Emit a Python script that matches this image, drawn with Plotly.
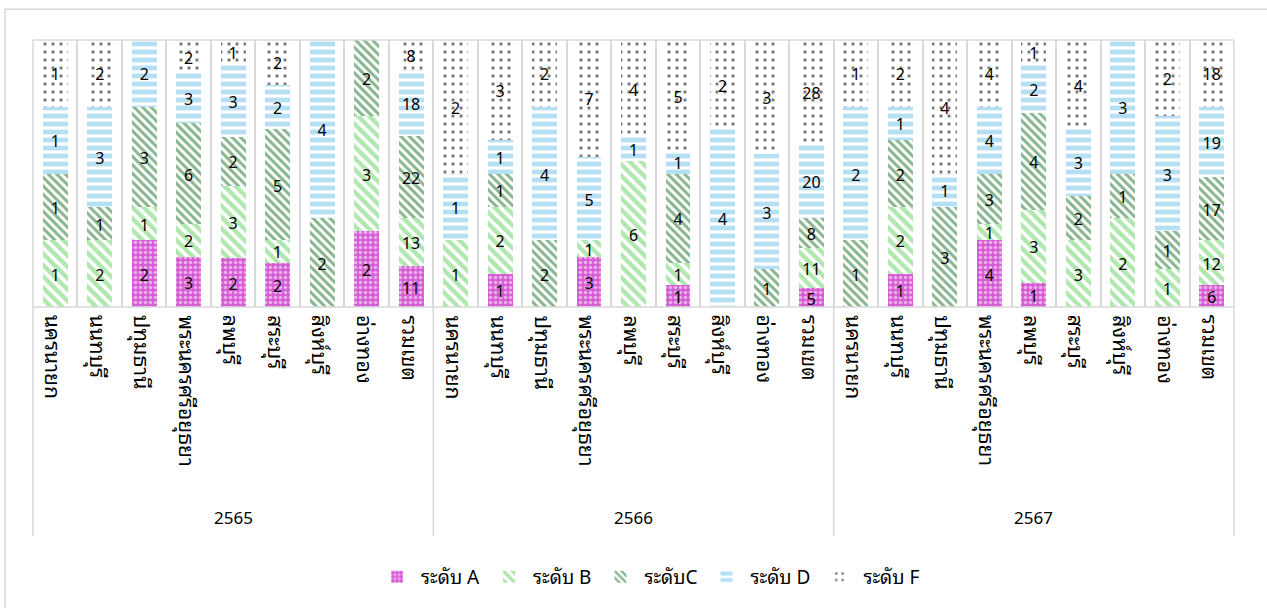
import plotly.graph_objects as go

years = ["2565", "2566", "2567"]
provinces = ["นครนายก", "นนทบุรี", "ปทุมธานี", "พระนครศรีอยุธยา", "ลพบุรี",
             "สระบุรี", "สิงห์บุรี", "อ่างทอง", "รวมเขต"]

# counts per bar: 2565 block, 2566 block, 2567 block (9 provinces each)
grade_A = [0, 0, 2, 3, 2, 2, 0, 2, 11,
           0, 1, 0, 3, 0, 1, 0, 0, 5,
           0, 1, 0, 4, 1, 0, 0, 0, 6]
grade_B = [1, 2, 1, 2, 3, 1, 0, 3, 13,
           1, 2, 0, 1, 6, 1, 0, 0, 11,
           0, 2, 0, 1, 3, 3, 2, 1, 12]
grade_C = [1, 1, 3, 6, 2, 5, 2, 2, 22,
           0, 1, 2, 0, 0, 4, 0, 1, 8,
           1, 2, 3, 3, 4, 2, 1, 1, 17]
grade_D = [1, 3, 2, 3, 3, 2, 4, 0, 18,
           1, 1, 4, 5, 1, 1, 4, 3, 20,
           2, 1, 1, 4, 2, 3, 3, 3, 19]
grade_F = [1, 2, 0, 2, 1, 2, 0, 0, 8,
           2, 3, 2, 7, 4, 5, 2, 3, 28,
           1, 2, 4, 4, 1, 4, 0, 2, 18]

series_names = ["ระดับ A", "ระดับ B", "ระดับC", "ระดับ D", "ระดับ F"]
series_values = [grade_A, grade_B, grade_C, grade_D, grade_F]
patterns = [
    dict(shape=".", bgcolor="#d65cd4", fgcolor="#ffffff", size=5, solidity=0.4),
    dict(shape="\\", bgcolor="#ffffff", fgcolor="#5fcf5f", size=8, solidity=0.55),
    dict(shape="\\", bgcolor="#ffffff", fgcolor="#0f6a1c", size=6, solidity=0.5),
    dict(shape="-", bgcolor="#ffffff", fgcolor="#6cc0e8", size=8, solidity=0.6),
    dict(shape=".", bgcolor="#ffffff", fgcolor="#000000", size=8, solidity=0.14),
]

labels_year = [y for y in years for _ in provinces]
labels_prov = [p for _ in years for p in provinces]
xpos = list(range(len(labels_prov)))

FONT = "Noto Sans Thai Looped, Noto Sans, Leelawadee UI, Tahoma, sans-serif"

fig = go.Figure()
for name, vals, pat in zip(series_names, series_values, patterns):
    yv = [v if v else None for v in vals]
    fig.add_trace(go.Bar(
        x=xpos, y=yv, name=name,
        text=[str(v) if v else "" for v in vals],
        textposition="inside", insidetextanchor="middle", textangle=0,
        textfont=dict(size=16, color="#000000", family=FONT),
        marker=dict(color=pat["bgcolor"], line=dict(width=0),
                    pattern=dict(shape=pat["shape"], fgcolor=pat["fgcolor"],
                                 bgcolor=pat["bgcolor"], size=pat["size"],
                                 solidity=pat["solidity"], fillmode="overlay")),
        width=0.56,
        hoverinfo="skip",
    ))

n = len(xpos)
fig.update_layout(
    barmode="stack", barnorm="percent",
    width=1267, height=608,
    margin=dict(l=33, r=33, t=40, b=299),
    paper_bgcolor="white", plot_bgcolor="white",
    font=dict(family=FONT, size=16, color="#000000"),
    uniformtext=dict(minsize=16, mode="show"),
    showlegend=True,
    legend=dict(orientation="h", x=0.513, xanchor="center", y=-1.011, yanchor="middle",
                font=dict(size=19), traceorder="normal", itemwidth=38,
                bgcolor="rgba(0,0,0,0)"),
    xaxis=dict(range=[-0.5, n - 0.5], showticklabels=False, ticks="",
               showgrid=True, gridcolor="#d9d9d9", gridwidth=1.5,
               tickmode="linear", tick0=-0.5, dtick=1,
               zeroline=False, showline=False),
    yaxis=dict(range=[0, 100], showticklabels=False, ticks="", showgrid=False,
               zeroline=False, showline=False),
)

line_style = dict(color="#d9d9d9", width=1.5)
shapes = []
# outer chart border
shapes.append(dict(type="rect", xref="paper", yref="paper", x0=-0.0233, x1=1.05,
                   y0=-1.3, y1=1.115, line=dict(color="#d9d9d9", width=1.5)))
# plot frame top and axis line
shapes.append(dict(type="line", xref="paper", yref="paper", x0=0, x1=1, y0=1, y1=1, line=line_style))
shapes.append(dict(type="line", xref="paper", yref="paper", x0=0, x1=1, y0=0, y1=0, line=line_style))
# left/right edges and year-group separators down through label area
bottom = -0.8587
for xp in [0, 1]:
    shapes.append(dict(type="line", xref="paper", yref="paper", x0=xp, x1=xp, y0=bottom, y1=1, line=line_style))
for g in range(1, len(years)):
    xs = g * len(provinces) - 0.5
    shapes.append(dict(type="line", xref="x", yref="paper", x0=xs, x1=xs, y0=bottom, y1=0, line=line_style))
fig.update_layout(shapes=shapes)

annotations = []
for i, p in enumerate(labels_prov):
    annotations.append(dict(x=i, y=0, xref="x", yref="paper", text=p, showarrow=False,
                            textangle=90, xanchor="center", yanchor="top", yshift=-6,
                            font=dict(size=21, family=FONT)))
for g, yr in enumerate(years):
    xc = g * len(provinces) + (len(provinces) - 1) / 2
    annotations.append(dict(x=xc, y=0, xref="x", yref="paper", text=yr, showarrow=False,
                            xanchor="center", yanchor="middle", yshift=-209,
                            font=dict(size=17, family=FONT)))
fig.update_layout(annotations=annotations)

fig.write_html("out.html")
